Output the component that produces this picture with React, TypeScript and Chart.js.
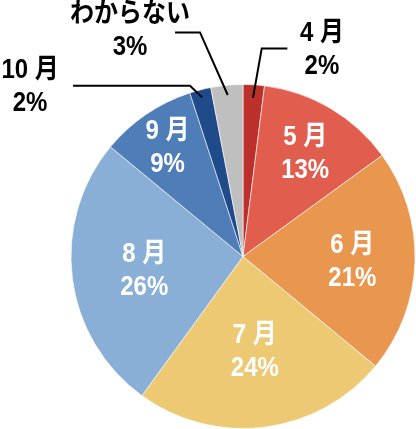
import { useEffect, useRef } from "react";
import { Chart, registerables } from "chart.js";

Chart.register(...registerables);

// ---- data ----
const categories = ["4 月", "5 月", "6 月", "7 月", "8 月", "9 月", "10 月", "わからない"];
const values = [2, 13, 21, 24, 26, 9, 2, 3];
const sliceColors = ["#BC302C", "#E15E4F", "#E9964F", "#EDC974", "#8AAFD6", "#4F7DB7", "#1F4B8B", "#BFBFBF"];

// ---- label layout (in units of pie radius) ----
const insideRadius: (number | null)[] = [null, 0.71, 0.636, 0.549, 0.579, 0.78, null, null];
type Outside = { start: number; elbow: [number, number]; end: [number, number]; text: [number, number] };
const outsideLayout: Record<number, Outside> = {
  0: { start: 0.925, elbow: [0.109, -1.21], end: [0.258, -1.21], text: [0.459, -1.212] },
  6: { start: 0.955, elbow: [-0.308, -0.993], end: [-0.988, -0.993], text: [-1.238, -0.997] },
  7: { start: 0.943, elbow: [-0.25, -1.303], end: [-0.395, -1.303], text: [-0.657, -1.323] },
};

const FONT_SIZE = 24;
const SCALE_Y = 1.13;
const LINE_GAP = 33;
const FONT = `bold ${FONT_SIZE}px "Liberation Sans", "Noto Sans CJK JP", sans-serif`;

function drawLines(ctx: CanvasRenderingContext2D, lines: string[], cx: number, cy: number, color: string) {
  ctx.save();
  ctx.font = FONT;
  ctx.fillStyle = color;
  ctx.textAlign = "center";
  ctx.textBaseline = "alphabetic";
  lines.forEach((t, i) => {
    const lc = cy + (i - (lines.length - 1) / 2) * LINE_GAP;
    const base = lc + FONT_SIZE * 0.36 * SCALE_Y;
    ctx.save();
    ctx.translate(cx, base);
    ctx.scale(1, SCALE_Y);
    ctx.fillText(t, 0, 0);
    ctx.restore();
  });
  ctx.restore();
}

const sliceLabelPlugin = {
  id: "sliceLabels",
  afterDatasetsDraw(chart: any) {
    const ctx: CanvasRenderingContext2D = chart.ctx;
    const meta = chart.getDatasetMeta(0);
    meta.data.forEach((arc: any, i: number) => {
      const { x, y, startAngle, endAngle, outerRadius } = arc.getProps(
        ["x", "y", "startAngle", "endAngle", "outerRadius"],
        true
      );
      const R = outerRadius;
      const mid = (startAngle + endAngle) / 2;
      const lines = [categories[i], `${values[i]}%`];
      const fr = insideRadius[i];
      if (fr != null) {
        drawLines(ctx, lines, x + Math.cos(mid) * R * fr, y + Math.sin(mid) * R * fr, "#FFFFFF");
        return;
      }
      const o = outsideLayout[i];
      if (!o) return;
      const sx = x + Math.cos(mid) * R * o.start;
      const sy = y + Math.sin(mid) * R * o.start;
      ctx.save();
      ctx.strokeStyle = "#000000";
      ctx.lineWidth = 2;
      ctx.beginPath();
      ctx.moveTo(sx, sy);
      ctx.lineTo(x + o.elbow[0] * R, y + o.elbow[1] * R);
      ctx.lineTo(x + o.end[0] * R, y + o.end[1] * R);
      ctx.stroke();
      ctx.restore();
      drawLines(ctx, lines, x + o.text[0] * R, y + o.text[1] * R, "#000000");
    });
  },
};

export default function App() {
  const ref = useRef<HTMLCanvasElement | null>(null);
  useEffect(() => {
    if (!ref.current) return;
    const chart = new Chart(ref.current, {
      type: "pie",
      data: {
        labels: categories,
        datasets: [
          {
            data: values,
            backgroundColor: sliceColors,
            borderColor: "rgba(255,255,255,0.6)",
            borderWidth: 1,
          },
        ],
      },
      options: {
        animation: false,
        responsive: true,
        maintainAspectRatio: false,
        layout: { padding: { left: 70.5, right: 0.5, top: 84, bottom: 0 } },
        plugins: {
          legend: { display: false },
          tooltip: { enabled: false },
        },
      },
      plugins: [sliceLabelPlugin],
    });
    return () => chart.destroy();
  }, []);
  return (
    <div style={{ position: "fixed", left: 0, top: 0, width: 416, height: 429, background: "#fff" }}>
      <canvas ref={ref} />
    </div>
  );
}
